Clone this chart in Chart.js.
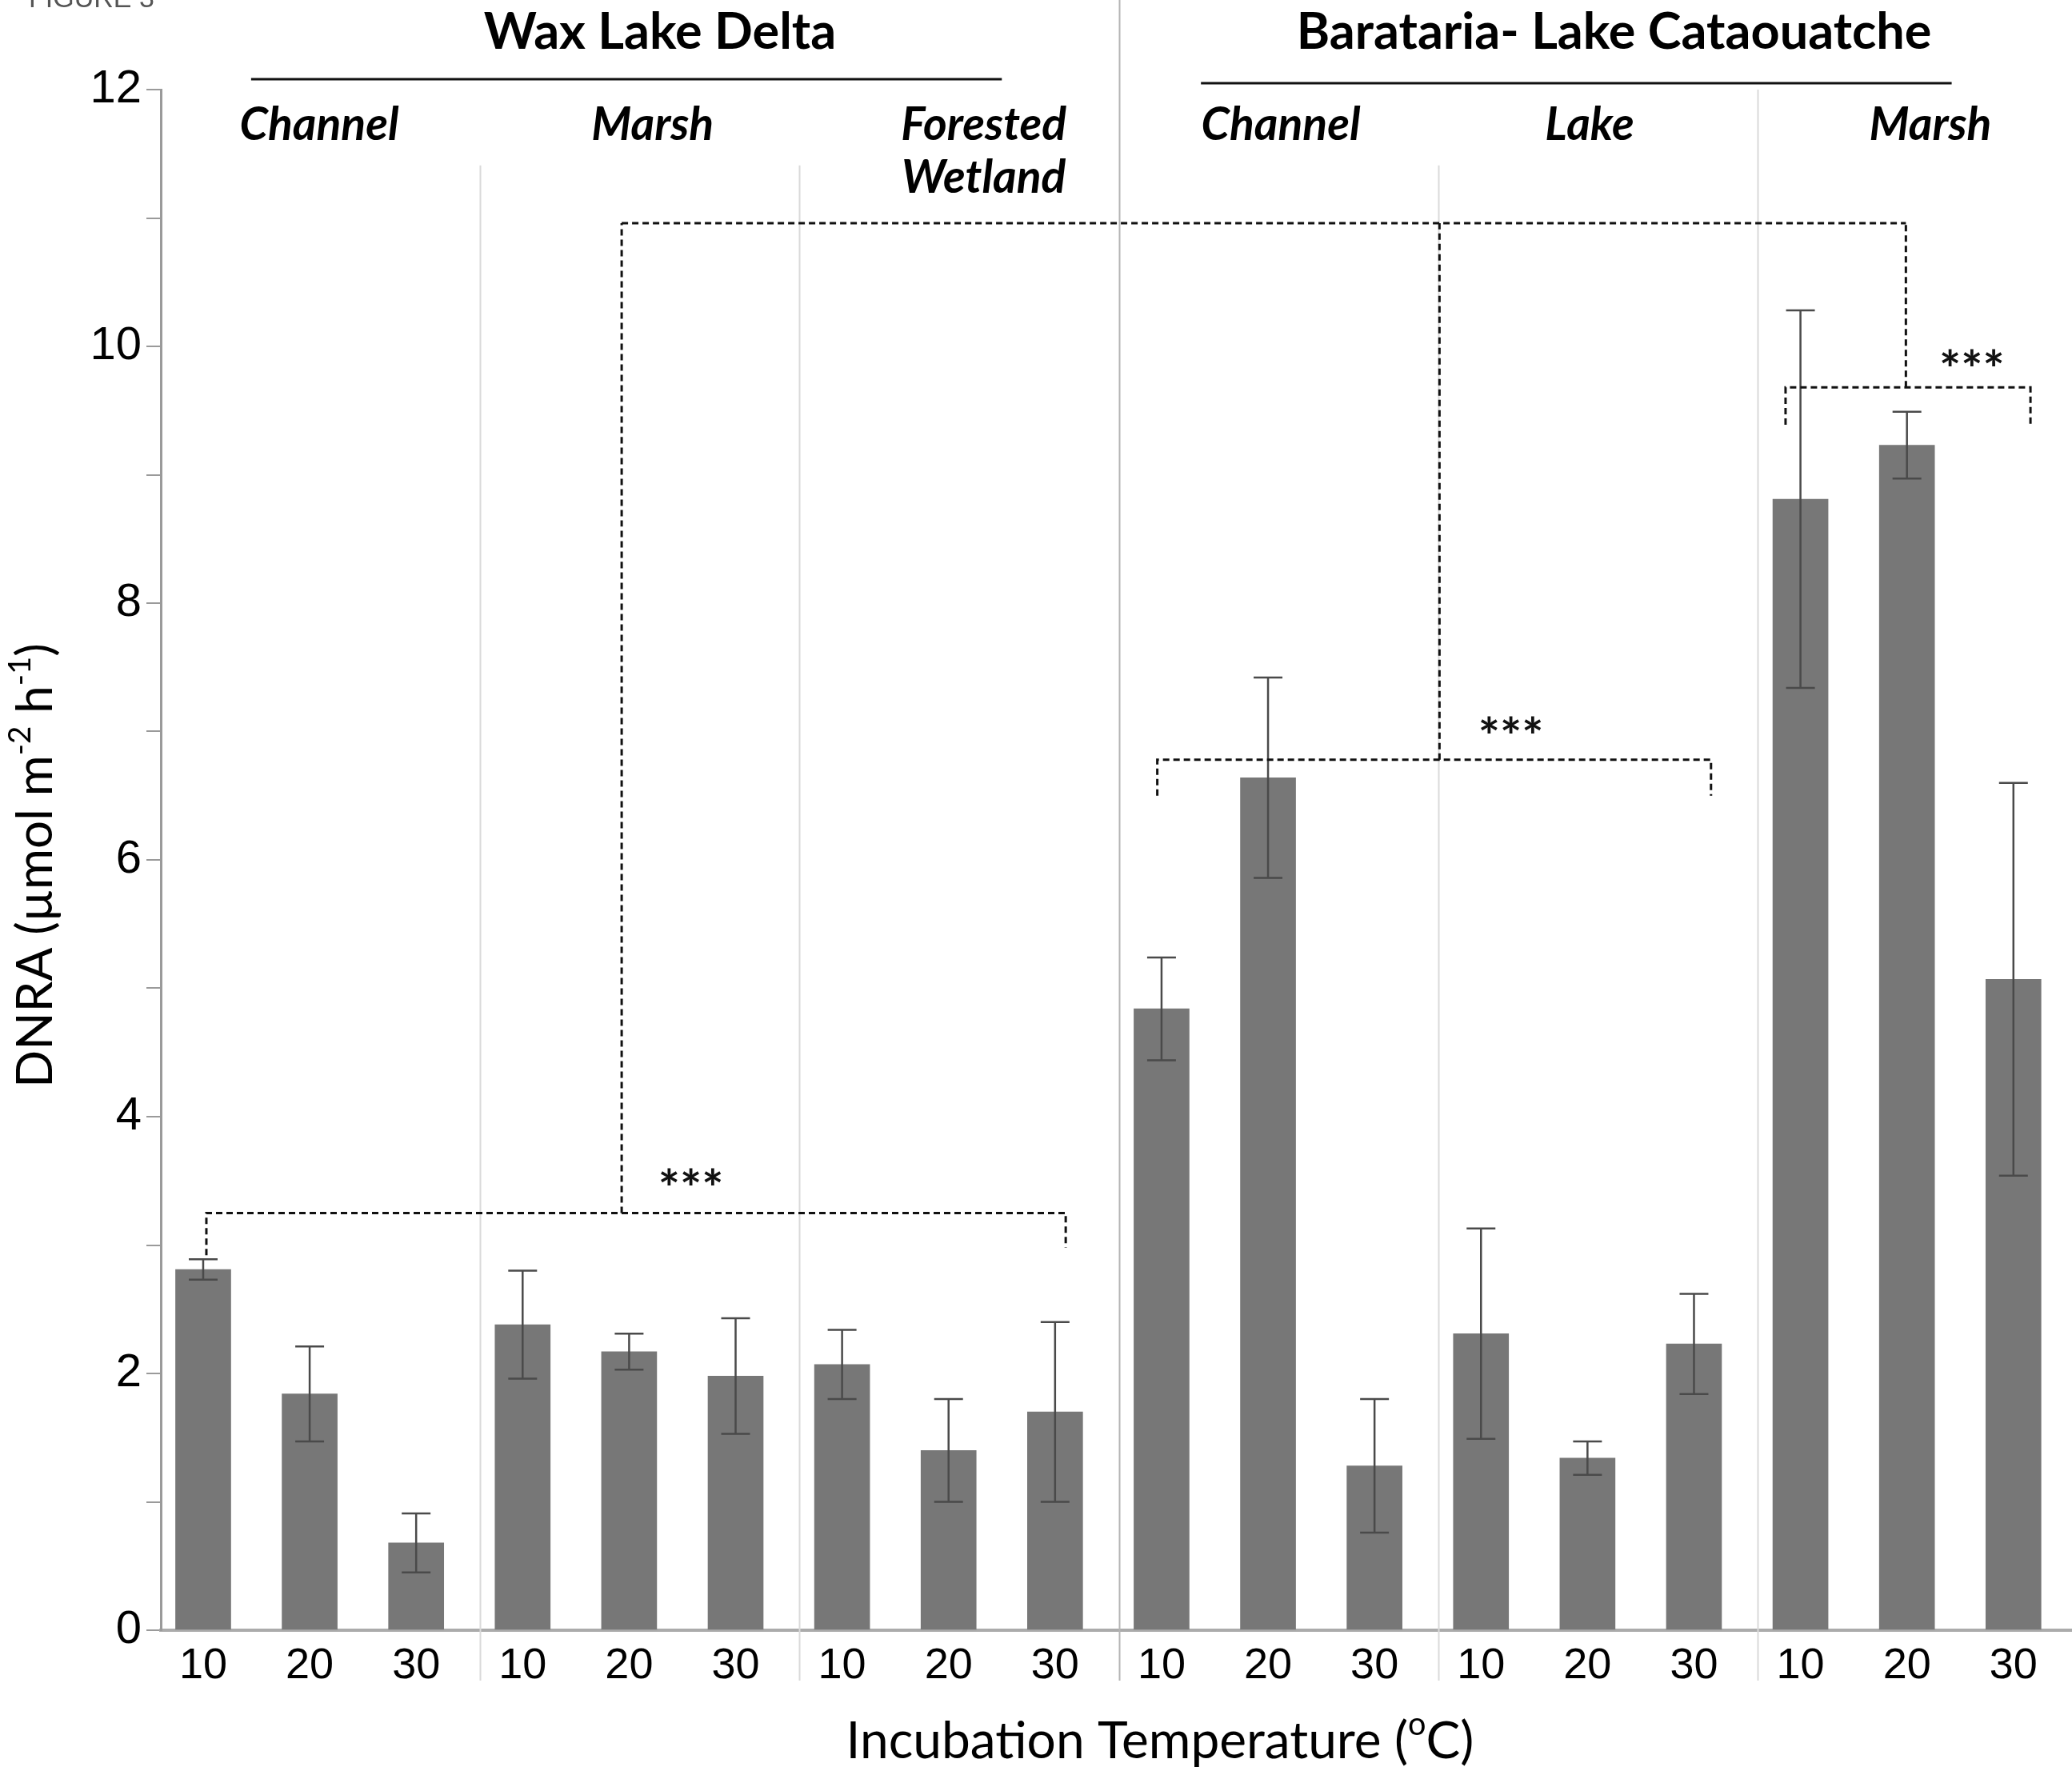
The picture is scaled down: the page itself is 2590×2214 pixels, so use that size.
<!DOCTYPE html>
<html>
<head>
<meta charset="utf-8">
<script src="https://cdn.jsdelivr.net/npm/chart.js@4.4.1/dist/chart.umd.min.js"></script>
<style>
  body { margin: 0; background: #fff; }
  canvas { display: block; }
</style>
</head>
<body>
<canvas id="dnraChart" width="2590" height="2214"></canvas>
<script>
// incubation temperature of each bar (x tick labels)
const temps = ["10", "20", "30", "10", "20", "30", "10", "20", "30",
               "10", "20", "30", "10", "20", "30", "10", "20", "30"];
// mean DNRA and error (µmol m-2 h-1)
const dnra = [2.81, 1.84, 0.68, 2.38, 2.17, 1.98, 2.07, 1.40, 1.70,
              4.84, 6.64, 1.28, 2.31, 1.34, 2.23, 8.81, 9.23, 5.07];
const dnraErr = [0.08, 0.37, 0.23, 0.42, 0.14, 0.45, 0.27, 0.40, 0.70,
                 0.40, 0.78, 0.52, 0.82, 0.13, 0.39, 1.47, 0.26, 1.53];
const regions = ["Wax Lake Delta", "Barataria- Lake Cataouatche"];
const regionCenter = [4.29, 13.25];
const regionLine = [[0.45, 7.5], [9.37, 16.42]];
const habitats = [["Channel"], ["Marsh"], ["Forested", "Wetland"], ["Channel"], ["Lake"], ["Marsh"]];
const habitatCenter = [1.09, 4.22, 7.33, 10.12, 13.02, 16.22];
const yTicks = [0, 2, 4, 6, 8, 10, 12];

// significance brackets: [from, to, level, left drop, right drop, riser at]
const brackets = [
  [0.03, 8.10, 3.25, 2.92, 2.98, 3.93],
  [8.96, 14.16, 6.78, 6.50, 6.50, 11.61],
  [14.86, 17.16, 9.68, 9.39, 9.39, 15.99]
];
const linkLevel = 10.96;
const stars = [[4.58, 3.51], [12.28, 7.03], [16.61, 9.89]];

const bodyFont = "Lato, 'Open Sans', sans-serif";

const decor = {
  id: "decor",
  beforeDatasetsDraw(chart) {
    const { ctx, chartArea } = chart;
    const x = chart.scales.x;
    const y = chart.scales.y;
    ctx.save();
    // group dividers
    [2.6, 5.6, 8.6, 11.6, 14.6].forEach((d, k) => {
      const px = Math.round(x.getPixelForValue(d)) + 0.5;
      let top = y.getPixelForValue(11.41);
      if (k === 2) top = 0;
      if (k === 4) top = y.getPixelForValue(12);
      ctx.strokeStyle = k === 2 ? "#b4b4b4" : "#dadada";
      ctx.lineWidth = 2;
      ctx.beginPath();
      ctx.moveTo(px, top);
      ctx.lineTo(px, chartArea.bottom + 63);
      ctx.stroke();
    });
    ctx.restore();
  },
  afterDatasetsDraw(chart) {
    const { ctx } = chart;
    const x = chart.scales.x;
    const y = chart.scales.y;
    ctx.save();
    // error bars
    ctx.strokeStyle = "#4a4a4a";
    ctx.lineWidth = 2.5;
    dnra.forEach((v, i) => {
      const px = x.getPixelForValue(i);
      const hi = y.getPixelForValue(v + dnraErr[i]);
      const lo = y.getPixelForValue(v - dnraErr[i]);
      ctx.beginPath();
      ctx.moveTo(px, hi); ctx.lineTo(px, lo);
      ctx.moveTo(px - 18, hi); ctx.lineTo(px + 18, hi);
      ctx.moveTo(px - 18, lo); ctx.lineTo(px + 18, lo);
      ctx.stroke();
    });
    // brackets
    ctx.strokeStyle = "#111";
    ctx.lineWidth = 3;
    ctx.setLineDash([8, 5]);
    brackets.forEach(b => {
      const x1 = x.getPixelForValue(b[0]), x2 = x.getPixelForValue(b[1]);
      const yl = y.getPixelForValue(b[2]);
      ctx.beginPath();
      ctx.moveTo(x1, y.getPixelForValue(b[3]));
      ctx.lineTo(x1, yl);
      ctx.lineTo(x2, yl);
      ctx.lineTo(x2, y.getPixelForValue(b[4]));
      ctx.moveTo(x.getPixelForValue(b[5]), yl);
      ctx.lineTo(x.getPixelForValue(b[5]), y.getPixelForValue(linkLevel));
      ctx.stroke();
    });
    ctx.beginPath();
    ctx.moveTo(x.getPixelForValue(brackets[0][5]), y.getPixelForValue(linkLevel));
    ctx.lineTo(x.getPixelForValue(brackets[2][5]), y.getPixelForValue(linkLevel));
    ctx.stroke();
    ctx.setLineDash([]);
    ctx.fillStyle = "#111";
    ctx.font = "bold 64px " + bodyFont;
    ctx.textAlign = "center";
    ctx.textBaseline = "middle";
    stars.forEach(s => ctx.fillText("***", x.getPixelForValue(s[0]), y.getPixelForValue(s[1]) + 14));
    ctx.restore();
  },
  afterDraw(chart) {
    const { ctx } = chart;
    const x = chart.scales.x;
    ctx.save();
    ctx.fillStyle = "#000";
    ctx.textAlign = "center";
    ctx.textBaseline = "middle";
    // region headers
    ctx.font = "bold 63px " + bodyFont;
    regions.forEach((r, k) => ctx.fillText(r, x.getPixelForValue(regionCenter[k]), 41));
    ctx.strokeStyle = "#111";
    ctx.lineWidth = 3;
    regionLine.forEach((l, k) => {
      const ly = k === 0 ? 99 : 104;
      ctx.beginPath();
      ctx.moveTo(x.getPixelForValue(l[0]), ly);
      ctx.lineTo(x.getPixelForValue(l[1]), ly);
      ctx.stroke();
    });
    // habitat labels
    ctx.font = "italic bold 57px " + bodyFont;
    habitats.forEach((h, k) => {
      h.forEach((line, j) => ctx.fillText(line, x.getPixelForValue(habitatCenter[k]), 157 + j * 66));
    });
    // axis titles with superscripts
    const drawRich = (parts, size) => {
      let total = 0;
      parts.forEach(p => {
        ctx.font = (p[1] ? size * 0.62 : size) + "px " + bodyFont;
        p.w = ctx.measureText(p[0]).width;
        total += p.w;
      });
      let cx = -total / 2;
      ctx.textAlign = "left";
      parts.forEach(p => {
        ctx.font = (p[1] ? size * 0.62 : size) + "px " + bodyFont;
        ctx.fillText(p[0], cx, p[1] ? -size * 0.32 : 0);
        cx += p.w;
      });
    };
    ctx.save();
    ctx.translate(1450, 2177);
    drawRich([["Incubation Temperature (", false], ["o", true], ["C)", false]], 64);
    ctx.restore();
    ctx.save();
    ctx.translate(45, 1082);
    ctx.rotate(-Math.PI / 2);
    drawRich([["DNRA (µmol m", false], ["-2", true], [" h", false], ["-1", true], [")", false]], 62);
    ctx.restore();
    // figure tag, cut at the top edge
    ctx.fillStyle = "#555";
    ctx.font = "34px 'Liberation Sans Narrow', 'Liberation Sans', sans-serif";
    ctx.textAlign = "left";
    ctx.textBaseline = "alphabetic";
    ctx.fillText("FIGURE 3", 36, 9);
    ctx.restore();
  }
};

new Chart(document.getElementById("dnraChart"), {
  type: "bar",
  data: {
    datasets: [{
      data: dnra.map((v, i) => ({ x: i, y: v })),
      backgroundColor: "#777777",
      barThickness: 69
    }]
  },
  options: {
    responsive: false,
    animation: false,
    layout: { padding: { top: 112, left: 0, right: 0, bottom: 0 } },
    plugins: { legend: { display: false }, tooltip: { enabled: false } },
    scales: {
      x: {
        type: "linear",
        offset: false,
        min: -0.398,
        max: 17.55,
        afterBuildTicks: s => { s.ticks = temps.map((t, i) => ({ value: i })); },
        afterFit: s => { s.height = 176; },
        grid: { display: false },
        border: { color: "#ababab", width: 4 },
        ticks: {
          autoSkip: false,
          maxRotation: 0,
          padding: 5,
          color: "#000",
          font: { family: "'Liberation Sans', Arial, sans-serif", size: 54 },
          callback: v => temps[v]
        }
      },
      y: {
        min: 0,
        max: 12,
        afterFit: s => { s.width = 201; },
        grid: { drawOnChartArea: false, tickLength: 18, color: "#9a9a9a", lineWidth: 2 },
        border: { color: "#9a9a9a", width: 3 },
        ticks: {
          stepSize: 1,
          padding: 6,
          color: "#000",
          font: { family: "'Liberation Sans', Arial, sans-serif", size: 58 },
          callback: v => (yTicks.includes(v) ? String(v) : "")
        }
      }
    }
  },
  plugins: [decor]
});
</script>
</body>
</html>
